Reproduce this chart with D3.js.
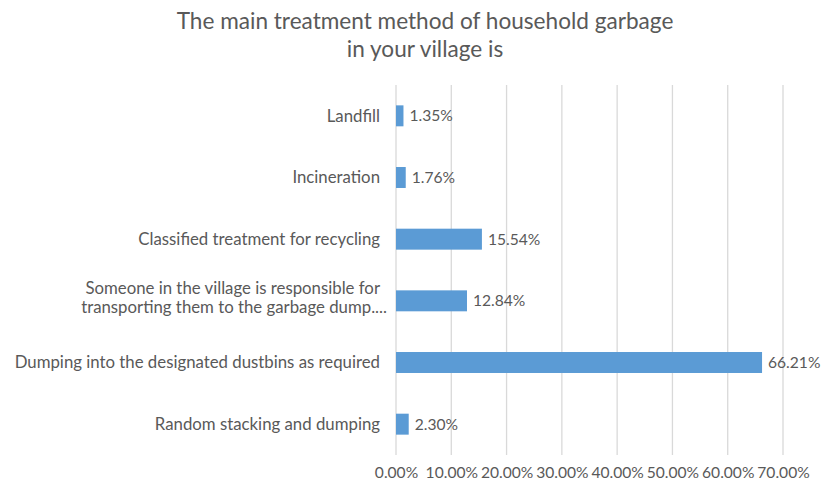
<!DOCTYPE html>
<html>
<head>
<meta charset="utf-8">
<script src="https://cdn.jsdelivr.net/npm/d3@7"></script>
<style>
  html, body { margin: 0; padding: 0; background: #ffffff; }
  svg { display: block; font-family: Lato, "Open Sans", sans-serif; }
</style>
</head>
<body>
<svg id="chart" width="827" height="486"></svg>
<script>
// Survey answers, listed top to bottom as drawn
const categories = [
  "Landfill",
  "Incineration",
  "Classified treatment for recycling",
  "Someone in the village is responsible for transporting them to the garbage dump....",
  "Dumping into the designated dustbins as required",
  "Random stacking and dumping"
];
// Wrapped label lines for each category
const categoryLines = [
  ["Landfill"],
  ["Incineration"],
  ["Classified treatment for recycling"],
  ["Someone in the village is responsible for", "transporting them to the garbage dump...."],
  ["Dumping into the designated dustbins as required"],
  ["Random stacking and dumping"]
];
const shares = [0.0135, 0.0176, 0.1554, 0.1284, 0.6621, 0.0230];
const tickValues = [0, 0.1, 0.2, 0.3, 0.4, 0.5, 0.6, 0.7];
const titleLines = ["The main treatment method of household garbage", "in your village is"];

const svg = d3.select("#chart");
const textColor = "#595959";
const margin = { left: 396, right: 44, top: 85, bottom: 31 };
const W = 827, H = 486;

const x = d3.scaleLinear().domain([0, 0.7]).range([margin.left, W - margin.right]);
const y = d3.scaleBand().domain(categories)
  .range([margin.top, H - margin.bottom])
  .paddingInner(0.66).paddingOuter(0.33);

const pct = d => d3.format(".2f")(d * 100) + "%";

// Title
svg.append("g").selectAll("text").data(titleLines).join("text")
  .attr("x", 425)
  .attr("y", (d, i) => 29 + i * 28)
  .attr("text-anchor", "middle")
  .attr("fill", textColor)
  .style("font-size", "22.6px")
  .text(d => d);

// Vertical gridlines
svg.append("g").selectAll("line").data(tickValues).join("line")
  .attr("x1", d => x(d)).attr("x2", d => x(d))
  .attr("y1", margin.top).attr("y2", H - margin.bottom)
  .attr("stroke", "#d9d9d9").attr("stroke-width", 1.3);

// Bottom axis labels (no axis line)
const xAxis = d3.axisBottom(x).tickValues(tickValues)
  .tickFormat(pct).tickSize(0).tickPadding(0);
const gx = svg.append("g").attr("transform", `translate(0,${H - margin.bottom + 12})`).call(xAxis);
gx.select(".domain").remove();
gx.selectAll("text").attr("fill", textColor).style("font-size", "15.6px")
  .style("font-family", "Lato, sans-serif");

// Bars
svg.append("g").selectAll("rect").data(shares).join("rect")
  .attr("x", x(0))
  .attr("y", (d, i) => y(categories[i]))
  .attr("width", d => x(d) - x(0))
  .attr("height", y.bandwidth())
  .attr("fill", "#5b9bd5");

// Value labels
svg.append("g").selectAll("text").data(shares).join("text")
  .attr("x", d => x(d) + 6)
  .attr("y", (d, i) => y(categories[i]) + y.bandwidth() / 2)
  .attr("dy", "0.35em")
  .attr("fill", textColor)
  .style("font-size", "15.6px")
  .text(pct);

// Category labels, right aligned next to the axis
const cat = svg.append("g").selectAll("text").data(categories).join("text")
  .attr("text-anchor", "end")
  .attr("fill", textColor)
  .style("font-size", "16.8px")
  .attr("transform", (d, i) => {
    const n = categoryLines[i].length;
    const cy = y(d) + y.bandwidth() / 2 - (n - 1) * 13;
    return `translate(380,${cy})`;
  });
cat.selectAll("tspan").data((d, i) => categoryLines[i]).join("tspan")
  .attr("x", (d, j) => j === 1 ? 7 : 0)
  .attr("y", (d, j) => j * 19.5)
  .attr("dy", "0.35em")
  .text(d => d);
</script>
</body>
</html>
